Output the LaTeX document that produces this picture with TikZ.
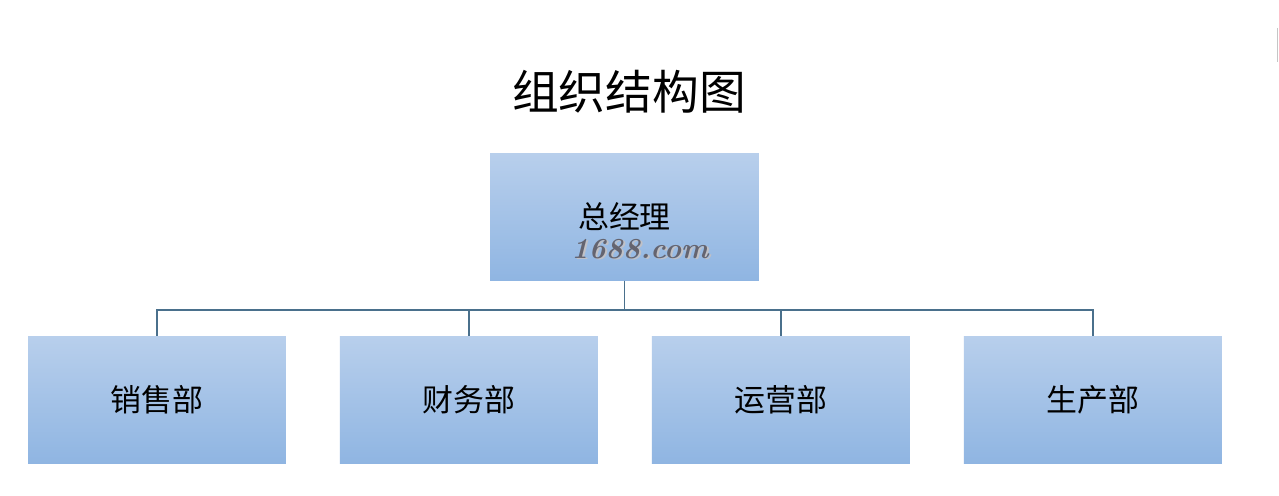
\documentclass[tikz,border=0pt]{standalone}
\usepackage{fontspec}
\newfontfamily\cjk{Noto Sans CJK SC}
\usetikzlibrary{positioning}

\definecolor{boxtop}{RGB}{184,207,236}
\definecolor{boxbot}{RGB}{143,181,226}
\definecolor{linea}{RGB}{74,112,140}
\definecolor{marchio}{RGB}{100,100,112}

\tikzset{
  ufficio/.style={rectangle, top color=boxtop, bottom color=boxbot,
    minimum width=5.16cm, minimum height=2.56cm, inner sep=0pt, outer sep=0pt,
    font=\cjk\fontsize{17.6}{20}\selectfont},
  ramo/.style={draw=linea, line width=1.1pt},
}

\begin{document}
\begin{tikzpicture}[x=0.02cm,y=-0.02cm]
    % sfondo
    \useasboundingbox[fill=white] (0,0) rectangle (1279,496);

    % titolo
    \node[font=\cjk\fontsize{26.6}{30}\selectfont] (titolo) at (629,92) {组织结构图};

    % direzione
    \node[ufficio, minimum width=5.38cm] (capo) at (624.5,217) {\raisebox{2pt}{总经理}};
    \node[font=\bfseries\itshape\fontsize{16.5}{18}\selectfont, text=marchio!40] at (642,250.5) {1688.com};
    \node[font=\bfseries\itshape\fontsize{16.5}{18}\selectfont, text=marchio] (marchio) at (640,249) {1688.com};

    % reparti
    \node[ufficio] (vendite) at (157,400) {销售部};
    \node[ufficio, right=1.08cm of vendite] (finanza) {财务部};
    \node[ufficio, right=1.08cm of finanza] (operazioni) {运营部};
    \node[ufficio, right=1.08cm of operazioni] (produzione) {生产部};

    % collegamenti
    \draw[ramo] (capo.south) -- ++(0,29) -| (vendite.north);
    \draw[ramo] (capo.south) -- ++(0,29) -| (finanza.north);
    \draw[ramo] (capo.south) -- ++(0,29) -| (operazioni.north);
    \draw[ramo] (capo.south) -- ++(0,29) -| (produzione.north);

    % segno a margine
    \draw[gray!45, line width=0.5pt] (1277,28) -- (1277,62);
\end{tikzpicture}
\end{document}
